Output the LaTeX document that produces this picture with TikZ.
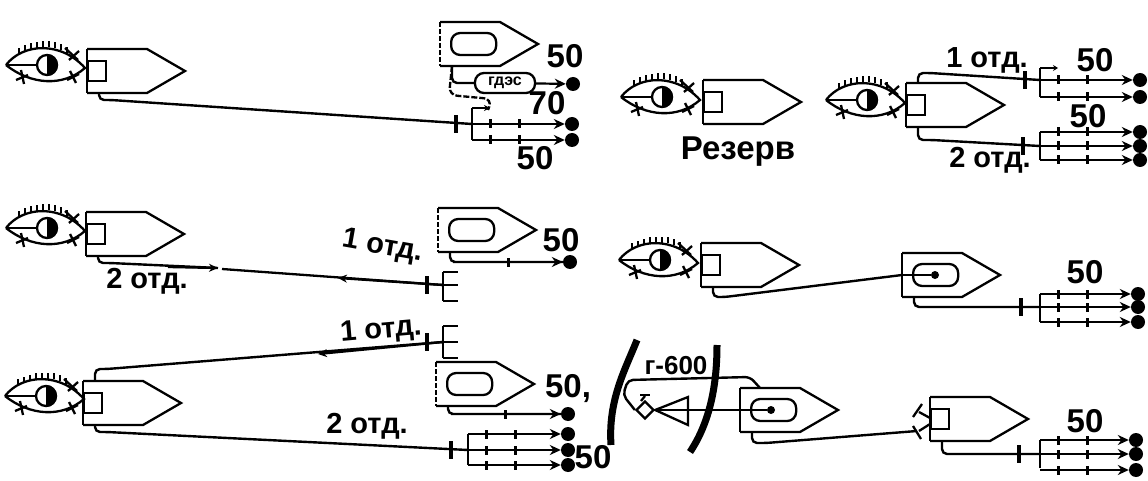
\documentclass[tikz,border=0pt]{standalone}
\usepackage{fontspec}
\setmainfont{Liberation Sans}
\usetikzlibrary{arrows.meta,positioning,calc,shapes.geometric}
% hull: name, x, y of the top left corner
\newcommand{\hullpath}[3]{
  \coordinate (#1-tl) at (#2,#3);
  \coordinate (#1-bl) at (#2,#3+44);
  \coordinate (#1-s) at (#2+12,#3+44);
  \coordinate (#1-n) at (#2+12,#3);
  \coordinate (#1-m) at (#2+24,#3+22);
  \draw[ln] (#1-bl) -- ++(60,0) -- ++(38,-22) -- ++(-38,-22) -- (#1-tl);
}
\newcommand{\ship}[3]{
  \hullpath{#1}{#2}{#3}
  \draw[ln] (#1-tl) -- (#1-bl);
}
\newcommand{\shipdash}[3]{
  \hullpath{#1}{#2}{#3}
  \draw[ln,dashed,dash pattern=on 5pt off 2pt] (#1-tl) -- (#1-bl);
}
% the small post box at the stern
\newcommand{\stern}[3]{
  \node[ln,draw,anchor=west,minimum width=18pt,minimum height=20pt,inner sep=0pt] (#1-post) at (#2,#3+22) {};
}
% the inner cabin
\newcommand{\cabin}[3]{
  \node[ln,draw,rounded corners=9pt,anchor=west,minimum width=45pt,minimum height=22pt,inner sep=0pt] (#1-cab) at (#2+10,#3+22) {};
}
% eye: name, centre of iris
\newcommand{\eyemark}[3]{
  \begin{scope}[shift={(#2,#3)}]
    \coordinate (#1-l) at (-41,0);
    \draw[ln] (#1-l) .. controls (-24,-22) and (14,-24) .. (38,3) .. controls (16,22) and (-16,20) .. (#1-l);
    \draw[ln] (#1-l) -- (-10,0);
    \draw[ln] (0,0) circle (10);
    \fill (0,-11) arc (-90:90:11) -- cycle;
    \foreach \lx/\ly in {-28/-11,-22/-13.5,-16/-15.5,-10/-17,-4/-17.5,2/-17.5,8/-17,14/-15,20/-12} {
      \draw[lash] (\lx,\ly) -- (\lx,\ly-6);
    }
    \draw[ln] (18,-17) -- (31,-5);
    \draw[ln] (22,-5) -- (32,-14);
    \draw[ln] (-26,5) -- (-23,19);
    \draw[ln] (-31,15) -- (-19,10);
    \draw[ln] (23,6) -- (29,18);
    \draw[ln] (20,15) -- (32,9);
  \end{scope}
}
% fan: name, bar x, arrow end x, list of y
\newcommand{\fan}[4]{
  \foreach \yy in {#4} {
    \node[dot] (#1-d\yy) at (#3+12,\yy) {};
    \coordinate (#1-b\yy) at (#2,\yy);
    \draw[shot] (#1-b\yy) -- (#1-d\yy);
    \node[tickbar] at (#2+18,\yy) {};
    \node[tickbar] at (#2+47,\yy) {};
  }
}
\begin{document}
\begin{tikzpicture}[
  x=1pt,y=-1pt,
  ln/.style={line width=2.3pt},
  lash/.style={line width=2pt},
  wire/.style={line width=2.4pt,rounded corners=5pt},
  shot/.style={line width=2.2pt,-{Stealth[length=11pt,width=10pt]}},
  dot/.style={circle,fill=black,inner sep=0pt,minimum size=14pt},
  tickbar/.style={fill=black,inner sep=0pt,minimum width=3pt,minimum height=9pt},
  crossbar/.style={fill=black,inner sep=0pt,minimum width=3.5pt,minimum height=18pt},
  lab/.style={font=\fontsize{29}{29}\selectfont\bfseries,inner sep=0pt},
  num/.style={font=\fontsize{33}{33}\selectfont\bfseries,inner sep=0pt}
]
\useasboundingbox (0,0) rectangle (1148,481);
\fill[white] (0,0) rectangle (1148,481);

% top left
\eyemark{ea}{47}{65}
\ship{sa}{87}{49}
\stern{sa}{87}{49}
\shipdash{sb}{440}{22}
\cabin{sb}{440}{22}
\node[crossbar] (ta) at (456,124) {};
\coordinate (pa) at (472,124);
\draw[wire] (sa-s) |- ++(12,7) -- (pa);
\draw[ln] (472,108) -- (472,140);
\draw[ln,-{Stealth[length=6pt,width=6pt]}] (472,108) -- (490,108);
\fan{fa}{472}{560}{124,140}
\node[ln,draw,rounded corners=9pt,minimum width=60pt,minimum height=20pt,inner sep=0pt,font=\fontsize{16}{16}\selectfont\bfseries] (gd) at (505,83) {гдэс};
\node[dot] (da) at (573,84) {};
\draw[shot] (gd) -- (da);
\draw[wire] (sb-s) |- (gd);
\draw[ln,dashed,dash pattern=on 6pt off 2pt,rounded corners=8pt] (sb-s) -- (449,95) -- (492,99) -- (488,110);
\node[num] (n50a) at (565,56) {50};
\node[num] (n70) at (547,103) {70};
\node[num] (n50b) at (535,158) {50};

% reserve
\eyemark{eb}{662}{97}
\ship{sc}{703}{80}
\stern{sc}{703}{80}
\node[lab,font=\fontsize{33}{33}\selectfont\bfseries] (rez) at (738,152) {Резерв};

% top right
\eyemark{ec}{867}{100}
\ship{sd}{906}{83}
\stern{sd}{906}{83}
\node[crossbar] (tb) at (1025,80) {};
\node[crossbar] (tc) at (1023,146) {};
\coordinate (pb) at (1040,80);
\coordinate (pc) at (1040,146);
\draw[wire] (sd-n) |- ++(12,-10) -- (pb);
\draw[wire] (sd-s) |- ++(14,13) -- (pc);
\draw[ln] (1040,68) -- (1040,97);
\draw[ln,-{Stealth[length=5pt,width=6pt]}] (1040,68) -- (1058,68);
\fan{fb}{1040}{1128}{80,97}
\draw[ln] (1040,132) -- (1040,160);
\fan{fc}{1040}{1128}{132,146,160}
\node[num] (n50c) at (1095,60) {50};
\node[num] (n50d) at (1088,116) {50};
\node[lab] (o1a) at (987,60) {1 отд.};
\node[lab] (o2a) at (990,160) {2 отд.};

% middle left
\eyemark{ed}{47}{228}
\ship{se}{86}{212}
\stern{se}{86}{212}
\shipdash{sf}{438}{208}
\cabin{sf}{438}{208}
\node[crossbar] (td) at (427,285) {};
\coordinate (pd) at (443,285);
\coordinate (qd) at (218,268);
\coordinate (qe) at (222,269);
\draw[wire] (se-s) |- ++(12,7) -- (qd);
\draw[ln,-{Stealth[length=9pt,width=8pt]}] (se-s) ++(70,11) -- (qd);
\draw[ln] (qe) -- (pd);
\draw[ln,-{Stealth[length=9pt,width=8pt]}] (pd) -- (338,278);
\draw[ln] (443,272) -- (443,301);
\foreach \fy in {272,285,301} { \draw[ln] (443,\fy) -- (458,\fy); }
\node[dot] (db) at (570,262) {};
\draw[wire] (sf-s) |- ++(8,10) coordinate (ce) -- (db.west);
\draw[shot] (ce) -- (db);
\node[tickbar] at (508,262) {};
\node[num] (n50e) at (561,240) {50};
\node[lab,rotate=-10] (o1b) at (383,247) {1 отд.};
\node[lab] (o2b) at (147,281) {2 отд.};

% bottom left
\eyemark{ee}{46}{396}
\ship{sg}{83}{381}
\stern{sg}{83}{381}
\shipdash{sh}{436}{362}
\cabin{sh}{436}{362}
\node[crossbar] (te) at (427,342) {};
\coordinate (pe) at (443,342);
\draw[wire] (sg-n) |- ++(12,-12) -- (pe);
\draw[ln,-{Stealth[length=9pt,width=8pt]}] (pe) -- (318,354);
\draw[ln] (443,326) -- (443,358);
\foreach \fy in {326,342,358} { \draw[ln] (443,\fy) -- (458,\fy); }
\node[crossbar] (tf) at (451,450) {};
\coordinate (pf) at (468,450);
\draw[wire] (sg-s) |- ++(12,7) -- (pf);
\draw[ln] (468,434) -- (468,465);
\fan{fd}{468}{556}{434,450,465}
\node[dot] (dc) at (568,414) {};
\draw[wire] (sh-s) |- ++(8,8) coordinate (cf) -- (dc.west);
\draw[shot] (cf) -- (dc);
\node[tickbar] at (505,414) {};
\node[num] (n50f) at (568,389) {50,};
\node[num] (n50g) at (593,457) {50};
\node[lab,rotate=5] (o1c) at (381,331) {1 отд.};
\node[lab] (o2c) at (367,426) {2 отд.};

% middle right
\eyemark{ef}{660}{260}
\ship{si}{701}{243}
\stern{si}{701}{243}
\ship{sj}{902}{253}
\cabin{sj}{902}{253}
\node[dot,minimum size=8pt] (dd) at (935,275) {};
\draw[wire] (si-s) |- ++(12,10) -- (sj-tl |- dd);
\draw[ln] (sj-tl |- dd) -- (dd);
\node[crossbar] (tg) at (1021,307) {};
\coordinate (pg) at (1040,307);
\draw[wire] (sj-s) |- ++(12,10) -- (pg);
\draw[ln] (1040,294) -- (1040,322);
\fan{fe}{1040}{1126}{294,307,322}
\node[num] (n50h) at (1085,272) {50};

% bottom right
\node[lab,font=\fontsize{26}{26}\selectfont\bfseries] (g600) at (676,366) {г-600};
\draw[line width=7pt] (637,340) .. controls (625,370) and (608,400) .. (611,445);
\draw[line width=7pt] (717,345) .. controls (717,390) and (708,425) .. (690,452);
\ship{sk}{740}{388}
\cabin{sk}{740}{388}
\node[dot,minimum size=8pt] (de) at (771,410) {};
\node[ln,draw,diamond,inner sep=0pt,minimum size=18pt] (ant) at (645,410) {};
\draw[ln] (ant.east) -- (688,397) -- (688,425) -- cycle;
\draw[ln] (641,401) -- (645,396);
\draw[ln] (640,395) -- (650,395);
\draw[ln] (ant) -- (de);
\draw[wire] (ant.west) -- (623,395) -- (628,380) -- (750,377) -- (760,388);
\ship{sl}{930}{397}
\stern{sl}{930}{397}
\coordinate (pj) at (917,431);
\draw[wire] (sk-s) |- ++(14,11) -- (pj);
\draw[ln] (930,418) -- (919,412);
\draw[ln] (913,417) -- (922,404);
\draw[ln] (930,424) -- (919,431);
\draw[ln] (913,426) -- (921,439);
\node[crossbar] (th) at (1019,454) {};
\coordinate (pk) at (1040,454);
\draw[wire] (sl-s) |- ++(12,13) -- (pk);
\draw[ln] (1040,440) -- (1040,468);
\fan{ff}{1040}{1124}{440,454,470}
\node[num] (n50i) at (1085,421) {50};
\end{tikzpicture}
\end{document}
